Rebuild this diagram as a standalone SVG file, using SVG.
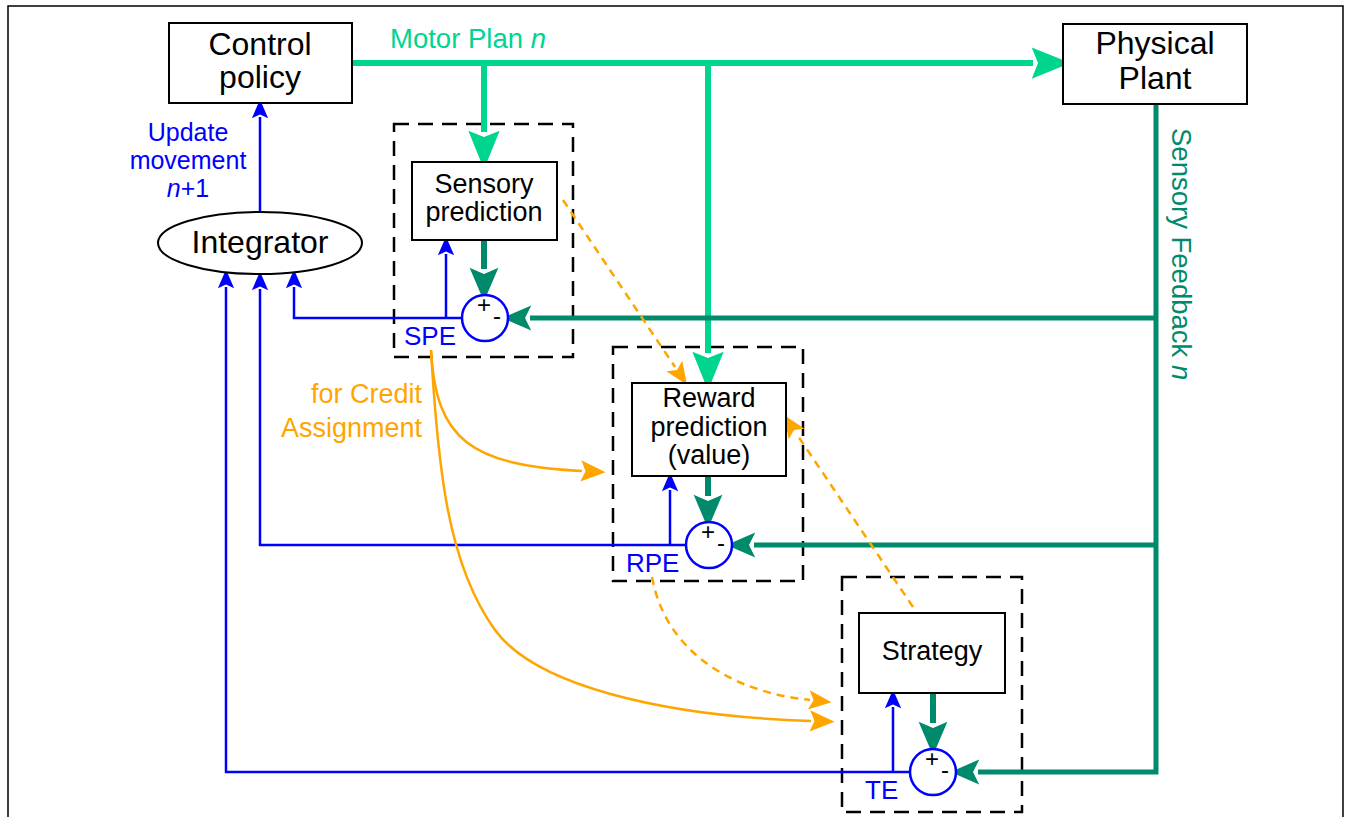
<svg xmlns="http://www.w3.org/2000/svg" width="1356" height="817" viewBox="0 0 1356 817">
<style>
text{font-family:"Liberation Sans",Arial,sans-serif}
.node{fill:#fff;stroke:#000;stroke-width:2}
.dash{fill:none;stroke:#000;stroke-width:2.5;stroke-dasharray:15 9}
.big{font-size:32px;fill:#000;text-anchor:middle}
.mid{font-size:27px;fill:#000;text-anchor:middle}
.lbl{font-size:26px;fill:#0000FF}
.sum{fill:#fff;stroke:#0000FF;stroke-width:2.5}
.sign{font-size:24px;fill:#000;text-anchor:middle}
.green{fill:none;stroke:#00D58F;stroke-width:6}
.teal{fill:none;stroke:#008A6C;stroke-width:5}
.tealT{fill:none;stroke:#008A6C;stroke-width:6}
.blue{fill:none;stroke:#0000FF;stroke-width:2.5}
.or{fill:none;stroke:#FFA500;stroke-width:2.5}
.ord{fill:none;stroke:#FFA500;stroke-width:2.5;stroke-dasharray:8 6}
.upd{font-size:25px;fill:#0000FF;text-anchor:middle}
</style>
<defs>
<marker id="mG" markerUnits="userSpaceOnUse" markerWidth="40" markerHeight="40" viewBox="0 -15 32 30" refX="0" refY="0" orient="auto" overflow="visible"><path d="M-1,-12.5 L30,0 L-1,12.5 L4,0 z" fill="#00D58F"/></marker>
<marker id="mT" markerUnits="userSpaceOnUse" markerWidth="40" markerHeight="40" viewBox="0 -15 32 30" refX="0" refY="0" orient="auto" overflow="visible"><path d="M-1,-11.5 L26,0 L-1,11.5 L4,0 z" fill="#008A6C"/></marker>
<marker id="mTs" markerUnits="userSpaceOnUse" markerWidth="30" markerHeight="30" viewBox="0 -12 24 24" refX="0" refY="0" orient="auto" overflow="visible"><path d="M-1,-10 L22,0 L-1,10 L4,0 z" fill="#008A6C"/></marker>
<marker id="mB" markerUnits="userSpaceOnUse" markerWidth="20" markerHeight="20" viewBox="0 -8 16 16" refX="0" refY="0" orient="auto" overflow="visible"><path d="M-1,-6.5 L14,0 L-1,6.5 L2,0 z" fill="#0000FF"/></marker>
<marker id="mO" markerUnits="userSpaceOnUse" markerWidth="26" markerHeight="26" viewBox="0 -10 22 20" refX="0" refY="0" orient="auto" overflow="visible"><path d="M-1,-9 L20,0 L-1,9 L3,0 z" fill="#FFA500"/></marker>
<marker id="mOd" markerUnits="userSpaceOnUse" markerWidth="24" markerHeight="24" viewBox="0 -10 20 20" refX="0" refY="0" orient="auto" overflow="visible"><path d="M-1,-8 L18,0 L-1,8 L3,0 z" fill="#FFA500"/></marker>
</defs>
<rect x="0" y="0" width="1356" height="817" fill="#fff"/>
<rect x="8" y="6" width="1335" height="830" fill="none" stroke="#000" stroke-width="1.5"/>

<g id="dashed-boxes">
<rect id="spe-box" class="dash" x="394" y="124" width="179" height="233"/>
<rect id="rpe-box" class="dash" x="613" y="347" width="190" height="234"/>
<rect id="te-box" class="dash" x="842" y="577" width="180" height="235"/>
</g>

<g id="connectors">
<path class="green" d="M352,63 H1033" marker-end="url(#mG)"/>
<path class="green" d="M484,63 V132" marker-end="url(#mG)"/>
<path class="green" d="M708,63 V353" marker-end="url(#mG)"/>
<path class="teal" d="M1156,104 V772 H978" marker-end="url(#mTs)"/>
<path class="teal" d="M1156,318 H530" marker-end="url(#mTs)"/>
<path class="teal" d="M1156,545 H754" marker-end="url(#mTs)"/>
<path class="tealT" d="M484,240 V269" marker-end="url(#mT)"/>
<path class="tealT" d="M708,476 V496" marker-end="url(#mT)"/>
<path class="tealT" d="M933,693 V723" marker-end="url(#mT)"/>
<path class="blue" d="M260,212 V117" marker-end="url(#mB)"/>
<path class="blue" d="M462,318 H294 V287" marker-end="url(#mB)"/>
<path class="blue" d="M446,318 V254" marker-end="url(#mB)"/>
<path class="blue" d="M686,545 H260 V289" marker-end="url(#mB)"/>
<path class="blue" d="M670,545 V490" marker-end="url(#mB)"/>
<path class="blue" d="M910,772 H226 V287" marker-end="url(#mB)"/>
<path class="blue" d="M893,772 V707" marker-end="url(#mB)"/>
<path class="or" d="M431,350 C436,440 470,465 582,471" marker-end="url(#mO)"/>
<path class="or" d="M431,350 C438,470 448,565 495,630 C535,685 660,716 811,721" marker-end="url(#mO)"/>
<path class="ord" d="M563,200 L675,367" marker-end="url(#mOd)"/>
<path class="ord" d="M913,607 L796,433" marker-end="url(#mOd)"/>
<path class="ord" d="M652,577 C665,650 730,692 810,700" marker-end="url(#mOd)"/>
</g>

<g id="control-policy">
<rect class="node" x="169" y="23" width="183" height="80"/>
<text class="big" x="260" y="55">Control</text>
<text class="big" x="260" y="88">policy</text>
</g>
<g id="physical-plant">
<rect class="node" x="1063" y="24" width="184" height="80"/>
<text class="big" x="1155" y="54">Physical</text>
<text class="big" x="1155" y="89">Plant</text>
</g>
<g id="integrator">
<ellipse class="node" cx="260" cy="243" rx="102" ry="31"/>
<text class="big" x="260" y="253">Integrator</text>
</g>
<g id="sensory-prediction">
<rect class="node" x="412" y="162" width="145" height="78"/>
<text class="mid" x="484" y="193">Sensory</text>
<text class="mid" x="484" y="221">prediction</text>
</g>
<g id="reward-prediction">
<rect class="node" x="632" y="383" width="154" height="93"/>
<text class="mid" x="709" y="407">Reward</text>
<text class="mid" x="709" y="436">prediction</text>
<text class="mid" x="709" y="464">(value)</text>
</g>
<g id="strategy">
<rect class="node" x="859" y="613" width="146" height="80"/>
<text class="mid" x="932" y="660">Strategy</text>
</g>
<g id="sum-spe">
<circle class="sum" cx="485" cy="318" r="23"/>
<text class="sign" x="484" y="313">+</text>
<text class="sign" x="497" y="324">-</text>
</g>
<g id="sum-rpe">
<circle class="sum" cx="709" cy="545" r="23"/>
<text class="sign" x="708" y="540">+</text>
<text class="sign" x="721" y="551">-</text>
</g>
<g id="sum-te">
<circle class="sum" cx="933" cy="772" r="23"/>
<text class="sign" x="932" y="767">+</text>
<text class="sign" x="945" y="778">-</text>
</g>

<g id="labels">
<text x="390" y="48" style="font-size:27.5px;fill:#00D58F">Motor Plan <tspan font-style="italic">n</tspan></text>
<text class="upd" x="188" y="141">Update</text>
<text class="upd" x="188" y="169">movement</text>
<text class="upd" x="188" y="197"><tspan font-style="italic">n</tspan>+1</text>
<text x="422" y="403" style="font-size:27px;fill:#FFA500;text-anchor:end">for Credit</text>
<text x="422" y="437" style="font-size:27px;fill:#FFA500;text-anchor:end">Assignment</text>
<text class="lbl" x="404" y="345">SPE</text>
<text class="lbl" x="626" y="572">RPE</text>
<text class="lbl" x="865" y="799">TE</text>
<text transform="translate(1172,128) rotate(90)" style="font-size:27.5px;fill:#008A6C">Sensory Feedback <tspan font-style="italic">n</tspan></text>
</g>
</svg>
